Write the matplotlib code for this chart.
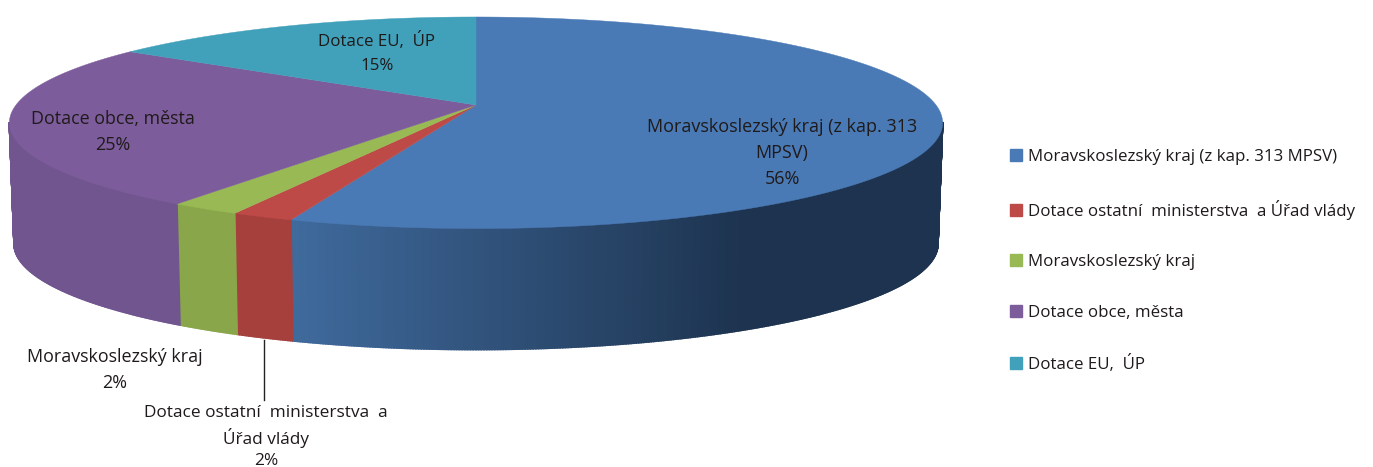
import numpy as np
import matplotlib
matplotlib.use("Agg")
import matplotlib.pyplot as plt
from matplotlib.patches import Patch

labels = ["Moravskoslezský kraj (z kap. 313 MPSV)", "Dotace ostatní  ministerstva  a Úřad vlády",
          "Moravskoslezský kraj", "Dotace obce, města", "Dotace EU,  ÚP"]
chart_labels = ["Moravskoslezský kraj (z kap. 313\nMPSV)", "Dotace ostatní  ministerstva  a\nÚřad vlády",
                "Moravskoslezský kraj", "Dotace obce, města", "Dotace EU,  ÚP"]
values = [55.5, 1.85, 2.1, 25.15, 15.4]
top_colors = ["#4a7ab5", "#bd4a47", "#98b954", "#7d5c9c", "#41a0ba"]
wall_colors = ["#3f6a9c", "#a5403d", "#8aa64a", "#71558f", "#3a8ea6"]
label_pos = [(782, 153), (266, 437), (115, 370), (113, 132), (377, 53)]
label_size = [13.0, 12.4, 12.9, 12.9, 12.2]
label_spacing = [1.55, 1.4, 1.55, 1.6, 1.65]

plt.rcParams["font.family"] = ["Open Sans", "DejaVu Sans"]


def project(theta, drop=0.0, shrink=1.0):
    # circle -> perspective ellipse, theta clockwise from 12 o'clock
    u, v = np.sin(theta), np.cos(theta)
    w = 1 + 0.168 * v
    return 476 + shrink * 460 * u / w, 105 - 102.8 * v / w + drop


def blue_wall(x):
    t = np.clip((x - 295) / 450, 0, 1)
    c0, c1 = np.array([0x3f, 0x6a, 0x9c]), np.array([0x1d, 0x33, 0x4f])
    return (c0 + (c1 - c0) * t) / 255


fig = plt.figure(figsize=(13.73, 4.67), dpi=100)
ax = fig.add_axes([0, 0, 1, 1])
ax.set_xlim(0, 1373)
ax.set_ylim(467, 0)
ax.axis("off")

edges = np.cumsum([0] + values) / sum(values) * 2 * np.pi

# side wall, only the part facing the viewer
for i in range(len(values)):
    n = max(int((edges[i + 1] - edges[i]) * 200), 3)
    ts = np.linspace(edges[i], edges[i + 1], n + 1)
    for t0, t1 in zip(ts[:-1], ts[1:]):
        if np.cos((t0 + t1) / 2) > -0.16:
            continue
        x0, y0 = project(t0)
        x1, y1 = project(t1)
        x2, y2 = project(t1, 121, 0.99)
        x3, y3 = project(t0, 121, 0.99)
        col = blue_wall((x0 + x1) / 2) if i == 0 else wall_colors[i]
        ax.fill([x0, x1, x2, x3], [y0, y1, y2, y3], color=col, lw=1.2)

# top face
for i in range(len(values)):
    ts = np.linspace(edges[i], edges[i + 1], 200)
    xs, ys = project(ts)
    ax.fill(np.r_[476, xs], np.r_[105, ys], color=top_colors[i], lw=0.3)

# data labels
for name, val, (x, y), fs, ls in zip(chart_labels, values, label_pos, label_size, label_spacing):
    ax.text(x, y, f"{name}\n{round(val)}%", ha="center", va="center", fontsize=fs,
            linespacing=ls, color="#1f1a1a")

ax.plot([264, 264], [340, 400], color="#222222", lw=1)

handles = [Patch(color=c) for c in top_colors]
ax.legend(handles, labels, loc="upper left", bbox_to_anchor=(1010 / 1373, 1 - 149 / 467),
          frameon=False, fontsize=12.2, handlelength=0.71, handleheight=0.71, handletextpad=0.35,
          labelspacing=2.04, borderpad=0, borderaxespad=0, labelcolor="#1f1a1a")

fig.savefig("out.png", dpi=100)
